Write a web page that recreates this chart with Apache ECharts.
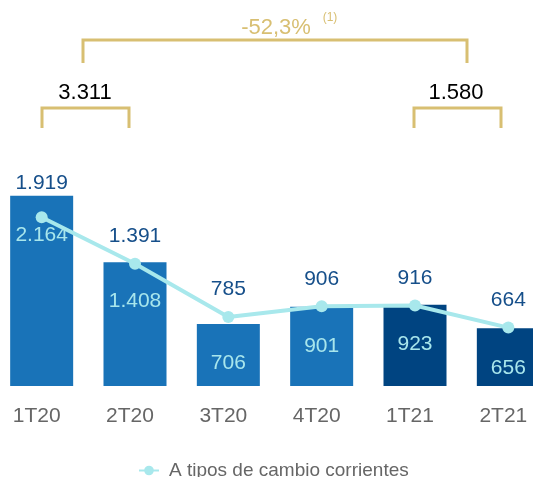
<!DOCTYPE html>
<html>
<head>
<meta charset="utf-8">
<script src="https://cdn.jsdelivr.net/npm/echarts@6/dist/echarts.min.js"></script>
<style>
  html, body { margin: 0; padding: 0; background: #fff; }
  #chart { width: 533px; height: 477px; }
</style>
</head>
<body>
<div id="chart"></div>
<script>
const quarters = ['1T20', '2T20', '3T20', '4T20', '1T21', '2T21']
const barValues = [2164, 1408, 706, 901, 923, 656]
const lineValues = [1919, 1391, 785, 906, 916, 664]
const barColors = ['#1973b8', '#1973b8', '#1973b8', '#1973b8', '#004481', '#004481']
const halfTotals = ['3.311', '1.580']
const change = '-52,3%'
const lineName = 'A tipos de cambio corrientes'

const gold = '#d8bf72'
const fmt = v => v >= 1000 ? Math.floor(v / 1000) + '.' + String(v % 1000).padStart(3, '0') : String(v)

const chart = echarts.init(document.getElementById('chart'), null, { renderer: 'canvas' })

function bracket(x1, x2, y, legY) {
  return {
    type: 'polyline',
    shape: { points: [[x1, legY], [x1, y], [x2, y], [x2, legY]] },
    style: { stroke: gold, lineWidth: 3, fill: null }
  }
}

const option = {
  animation: false,
  grid: { left: -5, width: 560, top: 131, bottom: 91, outerBoundsMode: 'none', containLabel: false },
  xAxis: {
    type: 'category',
    data: quarters,
    axisLine: { show: false },
    axisTick: { show: false },
    axisLabel: { color: '#666', fontSize: 21, fontFamily: 'Liberation Sans', margin: 20, padding: [0, 10, 0, 0] }
  },
  yAxis: { type: 'value', min: 0, max: 2900, show: false, splitLine: { show: false } },
  legend: {
    data: [lineName],
    left: 133,
    top: 456,
    itemWidth: 20,
    itemHeight: 12,
    textStyle: { color: '#666', fontSize: 19, fontFamily: 'Liberation Sans', padding: [0, 0, 0, 5] }
  },
  series: [
    {
      type: 'bar',
      name: 'bars',
      data: barValues.map((v, i) => ({ value: v, itemStyle: { color: barColors[i] } })),
      barWidth: 63,
      label: {
        show: true,
        position: 'insideTop',
        distance: 29,
        color: '#a8e6ec',
        fontSize: 21,
        fontFamily: 'Liberation Sans',
        formatter: p => fmt(p.value)
      }
    },
    {
      type: 'line',
      name: lineName,
      data: lineValues.map((v, i) => i === 0 ? { value: v, label: { distance: 18 } } : v),
      symbol: 'circle',
      symbolSize: 12,
      color: '#a8e8ec',
      lineStyle: { width: 4, color: '#a8e8ec' },
      itemStyle: { color: '#a8e8ec' },
      z: 5,
      label: {
        show: true,
        position: 'top',
        distance: 11,
        color: '#164f8a',
        fontSize: 21,
        fontFamily: 'Liberation Sans',
        formatter: p => fmt(p.value)
      }
    }
  ],
  graphic: [
    bracket(83, 467, 40, 63),
    bracket(42, 129, 108, 128),
    bracket(414, 501, 108, 128),
    {
      type: 'text', x: 276, y: 28,
      style: { text: change, fill: gold, fontSize: 22, fontFamily: 'Liberation Sans', align: 'center', verticalAlign: 'middle' }
    },
    {
      type: 'text', x: 330, y: 18,
      style: { text: '(1)', fill: gold, fontSize: 12, fontFamily: 'Liberation Sans', align: 'center', verticalAlign: 'middle' }
    },
    {
      type: 'text', x: 85, y: 93,
      style: { text: halfTotals[0], fill: '#000', fontSize: 22, fontFamily: 'Liberation Sans', align: 'center', verticalAlign: 'middle' }
    },
    {
      type: 'text', x: 456, y: 93,
      style: { text: halfTotals[1], fill: '#000', fontSize: 22, fontFamily: 'Liberation Sans', align: 'center', verticalAlign: 'middle' }
    }
  ]
}

chart.setOption(option)
</script>
</body>
</html>
